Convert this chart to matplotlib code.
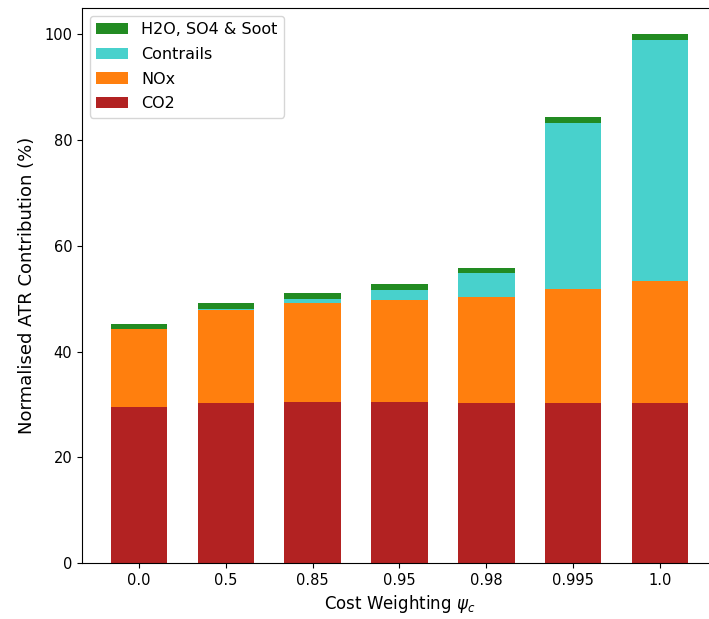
import matplotlib
matplotlib.use("Agg")
import matplotlib.pyplot as plt
import numpy as np

categories = ["0.0", "0.5", "0.85", "0.95", "0.98", "0.995", "1.0"]
co2 = [29.6, 30.2, 30.5, 30.5, 30.3, 30.2, 30.2]
nox = [14.6, 17.6, 18.6, 19.2, 20.1, 21.7, 23.1]
contrails = [0.0, 0.3, 0.9, 2.0, 4.4, 31.3, 45.6]
h2o = [1.1, 1.0, 1.0, 1.1, 1.1, 1.1, 1.1]

fig = plt.figure(figsize=(7.09, 6.19), dpi=100)
ax = fig.add_axes([82/709, (619-563)/619, (717-82)/709, (563-8)/619])

x = np.arange(len(categories))
w = 0.65
b1 = np.array(co2)
b2 = b1 + np.array(nox)
b3 = b2 + np.array(contrails)
p1 = ax.bar(x, co2, w, color="firebrick", label="CO2")
p2 = ax.bar(x, nox, w, bottom=b1, color="#ff7f0e", label="NOx")
p3 = ax.bar(x, contrails, w, bottom=b2, color="mediumturquoise", label="Contrails")
p4 = ax.bar(x, h2o, w, bottom=b3, color="forestgreen", label="H2O, SO4 & Soot")

ax.set_xticks(x)
ax.set_xticklabels(categories, fontsize=10.5)
ax.tick_params(axis="y", labelsize=10.5)
ax.set_xlabel(r"Cost Weighting $\psi_c$", fontsize=12)
ax.set_ylabel("Normalised ATR Contribution (%)", fontsize=13, labelpad=6)
ax.set_ylim(0, 105)
ax.legend(handles=[p4, p3, p2, p1], loc="upper left", fontsize=11.5, labelspacing=0.6)

fig.savefig("out.png", dpi=100)
